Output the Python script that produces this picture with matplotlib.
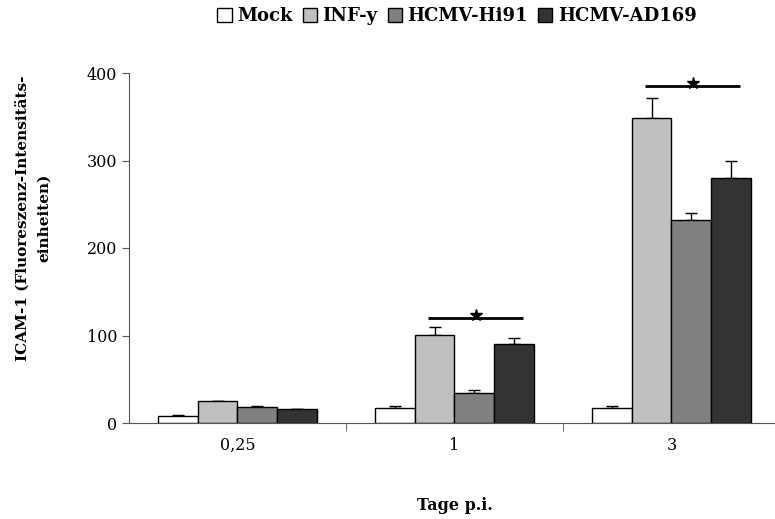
import numpy as np
import matplotlib.pyplot as plt
from matplotlib.ticker import FixedLocator

plt.rcParams['font.family'] = ['DejaVu Serif']

days = ["0,25", "1", "3"]
groups = ["Mock", "INF-y", "HCMV-Hi91", "HCMV-AD169"]
colors = ["#FFFFFF", "#C0C0C0", "#808080", "#333333"]

mock = [8, 17, 17]
inf = [25.5, 100.5, 349]
hi91 = [18.5, 34.5, 232]
ad169 = [16.5, 90, 280]

mock_err = [1.5, 3, 2]
inf_err = [0, 9.5, 23]
hi91_err = [1.5, 3.5, 7.5]
ad169_err = [0, 7.5, 19.5]

# significance bars: (group index, y level)
sig_groups = [1, 2]
sig_levels = [120, 385]

values = [mock, inf, hi91, ad169]
errors = [mock_err, inf_err, hi91_err, ad169_err]

fig = plt.figure(figsize=(7.75, 5.19), dpi=100)
ax = fig.add_axes([129 / 775, 1 - 423 / 519, 651 / 775, 350 / 519])

x = np.arange(len(days))
width = 0.184
for i, (vals, errs) in enumerate(zip(values, errors)):
    pos = x + (i - 1.5) * width
    ax.bar(pos, vals, width=width, color=colors[i], edgecolor="black", linewidth=1.0,
           label=groups[i], zorder=2)
    ax.errorbar(pos, vals, yerr=[np.zeros(len(errs)), errs], fmt='none', ecolor="black",
                elinewidth=1.0, capsize=4, capthick=1.0, zorder=1)

for g, lvl in zip(sig_groups, sig_levels):
    x0, x1 = g - 0.12, g + 0.315
    ax.plot([x0, x1], [lvl, lvl], color="black", lw=2, solid_capstyle='butt')
    ax.plot([(x0 + x1) / 2], [lvl + 3.5], marker='*', color="black", markersize=9)

ax.set_xlim(-0.5, 2.5)
ax.set_ylim(0, 400)
ax.set_yticks([0, 100, 200, 300, 400])
ax.set_xticks(x)
ax.set_xticklabels(days)
ax.xaxis.set_minor_locator(FixedLocator([0.5, 1.5, 2.5]))
ax.tick_params(axis='x', which='major', length=0, pad=10, labelsize=11.5)
ax.tick_params(axis='x', which='minor', length=6, direction='out', color="#555555")
ax.tick_params(axis='y', length=5, direction='out', labelsize=11.5, color="#555555")
ax.spines['top'].set_visible(False)
ax.spines['right'].set_visible(False)
ax.spines['left'].set_color("#555555")
ax.spines['bottom'].set_color("#555555")

fig.text(33 / 775, 1 - 218 / 519, "ICAM-1 (Fluoreszenz-Intensitäts-\neinheiten)",
         rotation=90, ha='center', va='center', fontweight='bold', fontsize=11,
         linespacing=1.7, multialignment='center')
fig.text(455 / 775, 1 - 506 / 519, "Tage p.i.", ha='center', va='center',
         fontweight='bold', fontsize=11.5)

fig.legend(loc='center', bbox_to_anchor=(457 / 775, 1 - 16 / 519), ncol=4, frameon=False,
           handlelength=0.8, handleheight=0.8, handletextpad=0.3, columnspacing=0.55,
           prop={'weight': 'bold', 'size': 13})

plt.savefig("out.png", dpi=100)
plt.close()
